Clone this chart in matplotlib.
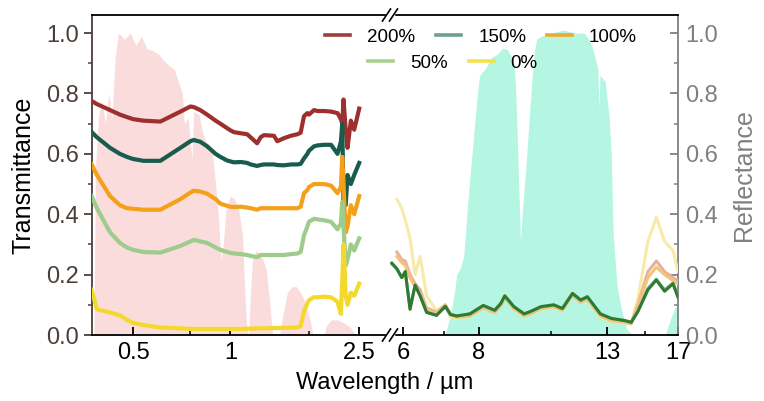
import numpy as np
import matplotlib.pyplot as plt
from matplotlib.lines import Line2D
from matplotlib.ticker import FixedLocator, NullFormatter, FixedFormatter

plt.rcParams['font.family'] = ['Liberation Sans', 'DejaVu Sans']

# ---- data: visible / NIR part (transmittance) ----
wl_vis = [0.372, 0.386, 0.424, 0.455, 0.478, 0.50, 0.538, 0.607, 0.70, 0.752,
          0.77, 0.807, 0.847, 0.90, 0.931, 0.977, 1.0, 1.025, 1.08, 1.127,
          1.155, 1.21, 1.24, 1.27, 1.364, 1.397, 1.465, 1.54, 1.612, 1.65,
          1.69, 1.731, 1.75, 1.815, 1.86, 1.95, 2.05, 2.146, 2.198, 2.22,
          2.24, 2.275, 2.305, 2.36, 2.417, 2.505]

t_200 = [0.775, 0.765, 0.745, 0.73, 0.722, 0.715, 0.71, 0.707, 0.74, 0.757,
         0.755, 0.745, 0.73, 0.71, 0.70, 0.685, 0.678, 0.672, 0.668, 0.665,
         0.655, 0.635, 0.655, 0.662, 0.66, 0.642, 0.652, 0.66, 0.665, 0.67,
         0.725, 0.735, 0.73, 0.745, 0.742, 0.742, 0.74, 0.735, 0.715, 0.70,
         0.78, 0.68, 0.62, 0.71, 0.68, 0.75]
t_150 = [0.672, 0.655, 0.62, 0.60, 0.59, 0.583, 0.577, 0.577, 0.62, 0.642,
         0.646, 0.64, 0.625, 0.60, 0.59, 0.578, 0.575, 0.572, 0.573, 0.57,
         0.565, 0.56, 0.563, 0.565, 0.565, 0.563, 0.562, 0.565, 0.565, 0.567,
         0.585, 0.60, 0.61, 0.625, 0.628, 0.63, 0.63, 0.60, 0.64, 0.70,
         0.44, 0.43, 0.53, 0.50, 0.53, 0.57]
t_100 = [0.565, 0.53, 0.46, 0.43, 0.42, 0.418, 0.415, 0.415, 0.45, 0.472,
         0.478, 0.475, 0.468, 0.45, 0.435, 0.428, 0.425, 0.424, 0.425, 0.422,
         0.42, 0.415, 0.42, 0.42, 0.42, 0.42, 0.42, 0.42, 0.42, 0.425,
         0.47, 0.48, 0.49, 0.50, 0.50, 0.50, 0.495, 0.47, 0.49, 0.59,
         0.50, 0.34, 0.36, 0.43, 0.40, 0.46]
t_50 = [0.46, 0.42, 0.34, 0.305, 0.29, 0.282, 0.275, 0.273, 0.295, 0.31,
        0.315, 0.31, 0.305, 0.29, 0.282, 0.275, 0.272, 0.27, 0.268, 0.265,
        0.262, 0.258, 0.265, 0.265, 0.265, 0.265, 0.265, 0.268, 0.27, 0.275,
        0.33, 0.36, 0.375, 0.385, 0.383, 0.38, 0.375, 0.35, 0.37, 0.44,
        0.36, 0.23, 0.25, 0.30, 0.28, 0.32]
t_0 = [0.15, 0.085, 0.075, 0.065, 0.05, 0.04, 0.033, 0.025, 0.022, 0.02,
       0.02, 0.02, 0.02, 0.02, 0.02, 0.02, 0.02, 0.02, 0.02, 0.021,
       0.021, 0.022, 0.022, 0.022, 0.023, 0.023, 0.024, 0.024, 0.025, 0.03,
       0.08, 0.105, 0.115, 0.125, 0.125, 0.127, 0.125, 0.11, 0.07, 0.18,
       0.30, 0.13, 0.10, 0.14, 0.13, 0.17]

# normalised solar spectrum (pink area)
sun_wl = [0.378, 0.382, 0.39, 0.40, 0.41, 0.42, 0.43, 0.44, 0.45, 0.47,
          0.49, 0.51, 0.53, 0.55, 0.58, 0.60, 0.62, 0.65, 0.67, 0.69,
          0.71, 0.72, 0.74, 0.76, 0.77, 0.80, 0.82, 0.84, 0.86, 0.88,
          0.90, 0.92, 0.935, 0.95, 0.97, 1.0, 1.03, 1.06, 1.09, 1.11,
          1.125, 1.14, 1.15, 1.17, 1.20, 1.23, 1.26, 1.29, 1.32, 1.35,
          1.42, 1.45, 1.50, 1.55, 1.60, 1.65, 1.72, 1.78, 1.80, 1.95,
          1.98, 2.05, 2.15, 2.25, 2.35, 2.45]
sun_val = [0.0, 0.55, 0.72, 0.78, 0.70, 0.80, 0.72, 0.92, 1.0, 0.98,
           1.0, 0.96, 0.99, 0.95, 0.94, 0.93, 0.91, 0.89, 0.88, 0.84,
           0.80, 0.70, 0.72, 0.58, 0.74, 0.73, 0.67, 0.64, 0.63, 0.60,
           0.50, 0.38, 0.25, 0.30, 0.42, 0.46, 0.45, 0.42, 0.33, 0.12,
           0.02, 0.0, 0.10, 0.25, 0.28, 0.27, 0.25, 0.22, 0.12, 0.0,
           0.0, 0.06, 0.14, 0.16, 0.16, 0.14, 0.10, 0.03, 0.0, 0.0,
           0.03, 0.05, 0.05, 0.04, 0.025, 0.0]

# ---- data: mid infrared part (reflectance) ----
wl_ir = [5.75, 5.86, 5.97, 6.05, 6.16, 6.28, 6.40, 6.56, 6.81, 7.04,
         7.18, 7.35, 7.73, 8.13, 8.49, 8.69, 8.82, 9.13, 9.49, 9.72,
         10.12, 10.62, 10.97, 11.4, 11.76, 12.06, 12.67, 13.2, 13.88, 14.24,
         14.6, 15.17, 15.66, 16.16, 16.68, 17.0]

r_0 = [np.nan, 0.45, 0.42, 0.38, 0.32, 0.20, 0.26, 0.13, 0.08, 0.10,
       0.06, 0.055, 0.062, 0.09, 0.075, 0.10, 0.135, 0.085, 0.062, 0.07,
       0.085, 0.09, 0.08, 0.14, 0.11, 0.12, 0.06, 0.045, 0.04, 0.035,
       0.12, 0.31, 0.39, 0.31, 0.28, 0.21]
r_200 = [np.nan, 0.275, 0.25, 0.245, 0.20, 0.17, 0.15, 0.09, 0.075, 0.10,
         0.07, 0.062, 0.066, 0.094, 0.078, 0.10, 0.128, 0.09, 0.066, 0.074,
         0.09, 0.096, 0.085, 0.135, 0.112, 0.122, 0.066, 0.05, 0.045, 0.04,
         0.10, 0.21, 0.245, 0.21, 0.19, 0.18]
r_100 = [np.nan, 0.26, 0.24, 0.23, 0.19, 0.16, 0.14, 0.085, 0.07, 0.098,
         0.066, 0.058, 0.063, 0.09, 0.074, 0.098, 0.125, 0.087, 0.063, 0.07,
         0.087, 0.093, 0.082, 0.132, 0.108, 0.118, 0.063, 0.047, 0.042, 0.038,
         0.095, 0.19, 0.225, 0.20, 0.18, 0.17]
r_50 = [0.235, 0.218, 0.19, 0.21, 0.09, 0.165, 0.13, 0.075, 0.066, 0.095,
        0.068, 0.063, 0.07, 0.097, 0.081, 0.104, 0.128, 0.093, 0.07, 0.077,
        0.093, 0.099, 0.087, 0.136, 0.115, 0.125, 0.07, 0.055, 0.048, 0.042,
        0.08, 0.155, 0.185, 0.15, 0.172, 0.13]
r_150 = [0.238, 0.22, 0.19, 0.21, 0.085, 0.165, 0.13, 0.075, 0.065, 0.095,
         0.068, 0.063, 0.07, 0.098, 0.082, 0.105, 0.13, 0.094, 0.07, 0.078,
         0.094, 0.10, 0.088, 0.138, 0.116, 0.127, 0.07, 0.055, 0.048, 0.042,
         0.077, 0.15, 0.182, 0.145, 0.17, 0.125]

# atmospheric window (cyan area)
atm_wl = [7.0, 7.08, 7.2, 7.3, 7.35, 7.45, 7.55, 7.64, 7.75, 7.83,
          7.95, 8.02, 8.18, 8.4, 8.57, 8.75, 8.91, 9.0, 9.13, 9.2,
          9.28, 9.36, 9.42, 9.55, 9.7, 9.85, 9.95, 10.12, 10.5, 11.05,
          11.5, 11.92, 12.2, 12.38, 12.55, 12.6, 12.65, 12.9, 13.1, 13.2,
          13.3, 13.5, 13.7, 14.0, 14.3, 16.2, 16.5, 16.8, 17.0]
atm_val = [0.0, 0.02, 0.08, 0.15, 0.20, 0.22, 0.26, 0.40, 0.55, 0.65,
           0.80, 0.86, 0.88, 0.92, 0.93, 0.95, 0.945, 0.93, 0.90, 0.80,
           0.55, 0.31, 0.40, 0.55, 0.75, 0.93, 0.98, 0.99, 1.0, 1.01,
           1.0, 1.0, 0.97, 0.93, 0.88, 0.75, 0.86, 0.84, 0.72, 0.60,
           0.33, 0.16, 0.09, 0.02, 0.0, 0.0, 0.05, 0.09, 0.10]

labels = ['200%', '150%', '100%', '50%', '0%']
line_cols = ['#9e2f2f', '#175c4c', '#f5a01a', '#9dcc8c', '#f3d92b']
legend_cols = ['#a03c3c', '#6f9f8a', '#f0a830', '#a9d08e', '#f5e04a']
ir_cols = {'0%': '#f9eaa8', '200%': '#e9b298', '100%': '#f1c47c',
           '50%': '#8fc48a', '150%': '#2f7a35'}

W, H = 764, 401
fig = plt.figure(figsize=(W / 100, H / 100), dpi=100)
x0, xb, x1 = 91.7, 390, 678
ytop, ybot = 15, 335
ax1 = fig.add_axes([x0 / W, 1 - ybot / H, (xb - x0) / W, (ybot - ytop) / H])
ax2 = fig.add_axes([xb / W, 1 - ybot / H, (x1 - xb) / W, (ybot - ytop) / H])

# left panel
ax1.fill_between(sun_wl, 0, sun_val, color='#fbdcdc', lw=0, zorder=1)
for lab, col, ys in zip(labels, line_cols, [t_200, t_150, t_100, t_50, t_0]):
    ax1.plot(wl_vis, ys, color=col, lw=3, zorder=3)

ax1.set_xscale('log')
ax1.set_xlim(0.372, 3.12)
ax1.set_ylim(0, 1.06)
ax1.xaxis.set_major_locator(FixedLocator([0.5, 1, 2.5]))
ax1.xaxis.set_major_formatter(FixedFormatter(['0.5', '1', '2.5']))
ax1.xaxis.set_minor_locator(FixedLocator([0.75, 1.75]))
ax1.xaxis.set_minor_formatter(NullFormatter())
ax1.set_yticks([0, 0.2, 0.4, 0.6, 0.8, 1.0])
ax1.set_yticklabels(['0.0', '0.2', '0.4', '0.6', '0.8', '1.0'])
ax1.yaxis.set_minor_locator(FixedLocator([0.1, 0.3, 0.5, 0.7, 0.9]))

dark = '#4b3f3a'
ax1.spines['right'].set_visible(False)
ax1.spines['left'].set_color(dark)
for s in ['left', 'top', 'bottom']:
    ax1.spines[s].set_linewidth(1.3)
ax1.tick_params(axis='x', which='both', direction='in', top=False, labelsize=17, pad=5)
ax1.tick_params(axis='x', which='major', length=6, width=1.3)
ax1.tick_params(axis='x', which='minor', length=3, width=1.1)
ax1.tick_params(axis='y', which='both', direction='out', colors=dark, labelsize=17, pad=3)
ax1.tick_params(axis='y', which='major', length=6, width=1.3)
ax1.tick_params(axis='y', which='minor', length=3, width=1.1)
ax1.set_ylabel('Transmittance', fontsize=18, labelpad=8)

# right panel
ax2.fill_between(atm_wl, 0, atm_val, color='#b5f6e2', lw=0, zorder=1)
for lab in ['0%', '200%', '100%', '50%', '150%']:
    ys = {'0%': r_0, '200%': r_200, '100%': r_100, '50%': r_50, '150%': r_150}[lab]
    ax2.plot(wl_ir, ys, color=ir_cols[lab], lw=2.2, zorder=3)

ax2.set_xscale('log')
ax2.set_xlim(5.71, 17.0)
ax2.set_ylim(0, 1.06)
ax2.xaxis.set_major_locator(FixedLocator([6, 8, 13, 17]))
ax2.xaxis.set_major_formatter(FixedFormatter(['6', '8', '13', '17']))
ax2.xaxis.set_minor_locator(FixedLocator([7, 10.5, 15]))
ax2.xaxis.set_minor_formatter(NullFormatter())
ax2.yaxis.tick_right()
ax2.yaxis.set_label_position('right')
ax2.set_yticks([0, 0.2, 0.4, 0.6, 0.8, 1.0])
ax2.set_yticklabels(['0.0', '0.2', '0.4', '0.6', '0.8', '1.0'])
ax2.yaxis.set_minor_locator(FixedLocator([0.1, 0.3, 0.5, 0.7, 0.9]))

grey = '#808080'
ax2.spines['left'].set_visible(False)
ax2.spines['right'].set_color(grey)
for s in ['right', 'top', 'bottom']:
    ax2.spines[s].set_linewidth(1.3)
ax2.tick_params(axis='x', which='both', direction='in', top=False, labelsize=17, pad=5)
ax2.tick_params(axis='x', which='major', length=6, width=1.3)
ax2.tick_params(axis='x', which='minor', length=3, width=1.1)
ax2.tick_params(axis='y', which='both', direction='in', colors=grey, labelsize=17, pad=5,
                left=False, right=True)
ax2.tick_params(axis='y', which='major', length=6, width=1.3)
ax2.tick_params(axis='y', which='minor', length=3, width=1.1)
ax2.set_ylabel('Reflectance', fontsize=18, color=grey, labelpad=10)

fig.text((x0 + x1) / 2 / W, 1 - 383 / H, 'Wavelength / µm', fontsize=17,
         ha='center', va='center')

# axis break marks
for yy in [ytop, ybot]:
    yf = 1 - yy / H
    fig.add_artist(Line2D([(xb - 3) / W, (xb + 3) / W], [yf, yf], color='white',
                          lw=2.5, transform=fig.transFigure))
    for dx in [-3.5, 3.5]:
        fig.add_artist(Line2D([(xb + dx - 4) / W, (xb + dx + 4) / W],
                              [yf - 6 / H, yf + 6 / H], color='black', lw=1.2,
                              transform=fig.transFigure))

# legend in two rows (3 + 2)
handles = [Line2D([], [], color=c, lw=2.6) for c in legend_cols]
leg_kw = dict(frameon=False, fontsize=13.5, handlelength=1.35, handletextpad=0.9,
              columnspacing=1.1, borderpad=0, loc='center')
leg1 = fig.legend(handles[:3], labels[:3], ncol=3,
                  bbox_to_anchor=(481 / W, 1 - 37 / H), **leg_kw)
leg2 = fig.legend(handles[3:], labels[3:], ncol=2,
                  bbox_to_anchor=(453 / W, 1 - 63 / H), **leg_kw)

fig.savefig('out.png', dpi=100)
